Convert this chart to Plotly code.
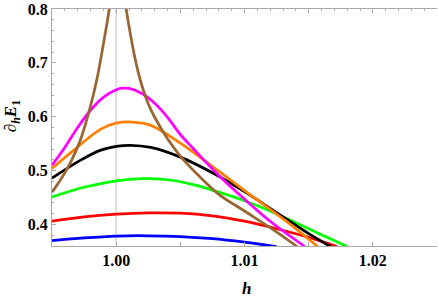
import plotly.graph_objects as go

# ---- data ----
h_blue = [0.995, 0.9975, 1.0, 1.0025, 1.005, 1.0075, 1.010, 1.0125]
v_blue = [0.370, 0.375, 0.3785, 0.379, 0.3775, 0.3735, 0.367, 0.359]

h_red = [0.995, 0.9975, 1.0, 1.0025, 1.005, 1.0075, 1.010, 1.0125, 1.015, 1.0172]
v_red = [0.406, 0.414, 0.419, 0.4215, 0.421, 0.416, 0.406, 0.392, 0.376, 0.359]

h_green = [0.995, 0.9975, 1.0, 1.002, 1.004, 1.006, 1.008, 1.010, 1.012, 1.014, 1.016, 1.018]
v_green = [0.451, 0.469, 0.481, 0.485, 0.483, 0.474, 0.460, 0.444, 0.425, 0.403, 0.381, 0.359]

h_black = [0.995, 0.9972, 0.9988, 1.0, 1.0011, 1.0027, 1.005, 1.0075, 1.010, 1.0125, 1.015, 1.0167]
v_black = [0.486, 0.519, 0.538, 0.545, 0.547, 0.543, 0.525, 0.496, 0.461, 0.422, 0.383, 0.359]

h_orange = [0.995, 0.9967, 0.9988, 1.0, 1.0013, 1.0027, 1.005, 1.0081, 1.0104, 1.0132, 1.0157]
v_orange = [0.504, 0.538, 0.577, 0.588, 0.590, 0.584, 0.551, 0.497, 0.456, 0.407, 0.359]

h_magenta = [0.995, 0.996, 0.997, 0.998, 0.999, 1.000, 1.0005, 1.001, 1.002, 1.003, 1.004,
             1.005, 1.006, 1.008, 1.010, 1.012, 1.0147]
v_magenta = [0.510, 0.543, 0.580, 0.612, 0.636, 0.650, 0.653, 0.6525, 0.643, 0.625, 0.599,
             0.567, 0.541, 0.491, 0.447, 0.406, 0.359]

h_brown_left = [0.995, 0.99564, 0.99642, 0.9972, 0.99798, 0.99852, 0.99899, 0.99946, 0.99969]
v_brown_left = [0.460, 0.482, 0.514, 0.556, 0.618, 0.672, 0.733, 0.800, 0.845]

h_brown_right = [1.00058, 1.00078, 1.001, 1.0015, 1.002, 1.0025, 1.003, 1.004, 1.005,
                 1.0065, 1.008, 1.010, 1.012, 1.0141]
v_brown_right = [0.830, 0.800, 0.768, 0.705, 0.658, 0.624, 0.599, 0.559, 0.527,
                 0.489, 0.456, 0.425, 0.394, 0.359]

x_ticks = [1.00, 1.01, 1.02]
x_ticktext = ["1.00", "1.01", "1.02"]
y_ticks = [0.4, 0.5, 0.6, 0.7, 0.8]
y_ticktext = ["0.4", "0.5", "0.6", "0.7", "0.8"]

series = [
    (h_blue, v_blue, "#0000FF"),
    (h_red, v_red, "#FF0000"),
    (h_green, v_green, "#00FF00"),
    (h_black, v_black, "#000000"),
    (h_orange, v_orange, "#FF8000"),
    (h_magenta, v_magenta, "#FF00FF"),
    (h_brown_left, v_brown_left, "#996633"),
    (h_brown_right, v_brown_right, "#996633"),
]

fig = go.Figure()
for hx, vy, col in series:
    fig.add_trace(go.Scatter(x=hx, y=vy, mode="lines",
                             line=dict(color=col, width=2.75, shape="spline", smoothing=1.0),
                             showlegend=False, hoverinfo="skip"))

# invisible trace to carry the top axis
fig.add_trace(go.Scatter(x=[1.0], y=[0.5], xaxis="x2", mode="markers",
                         marker=dict(opacity=0), showlegend=False, hoverinfo="skip"))

SERIF = "Liberation Serif"
axis_col = "#aaaaaa"
tickfont = dict(family=SERIF, size=16, color="black", weight="bold")

fig.update_layout(
    width=438, height=299,
    margin=dict(l=52, r=1, t=9, b=53, autoexpand=False),
    paper_bgcolor="white", plot_bgcolor="white",
    font=dict(family=SERIF),
    xaxis=dict(range=[0.995, 1.025], showgrid=False, zeroline=False, automargin=False,
               showline=True, linecolor=axis_col, linewidth=1,
               ticks="inside", ticklen=4, tickcolor=axis_col,
               tickmode="array", tickvals=x_ticks, ticktext=x_ticktext,
               tickfont=tickfont,
               minor=dict(ticks="inside", dtick=0.005, tick0=0.995, ticklen=4, tickcolor=axis_col)),
    xaxis2=dict(range=[0.995, 1.025], overlaying="x", side="top", showgrid=False, automargin=False,
                zeroline=False, showline=True, linecolor=axis_col, linewidth=1,
                ticks="inside", ticklen=4, tickcolor=axis_col, dtick=0.005, tick0=0.995,
                showticklabels=False,
                minor=dict(ticks="inside", dtick=0.001, tick0=0.995, ticklen=2, tickcolor=axis_col)),
    yaxis=dict(range=[0.36, 0.8], showgrid=False, zeroline=False, automargin=False,
               showline=True, linecolor=axis_col, linewidth=1,
               ticks="inside", ticklen=4, tickcolor=axis_col,
               tickmode="array", tickvals=y_ticks, ticktext=y_ticktext,
               tickfont=tickfont,
               minor=dict(ticks="inside", dtick=0.02, tick0=0.36, ticklen=2, tickcolor=axis_col)),
    shapes=[dict(type="line", xref="x", yref="paper", x0=1.0, x1=1.0, y0=0, y1=1,
                 line=dict(color="#d4d4d4", width=1.5), layer="below")],
    annotations=[
        dict(text="∂<sub><i>h</i></sub><i>E</i><sub>1</sub>", xref="paper", yref="paper",
             x=-0.103, y=0.549, xanchor="center", yanchor="middle", textangle=-90,
             showarrow=False, font=dict(family=SERIF, size=17, color="black", weight="bold")),
        dict(text="<i>h</i>", xref="paper", yref="paper", x=0.504, y=-0.178,
             xanchor="center", yanchor="middle", showarrow=False,
             font=dict(family=SERIF, size=17, color="black", weight="bold")),
    ],
)

fig.write_html("out.html", config={"displayModeBar": False},
               post_script="document.body.style.margin='0';")
